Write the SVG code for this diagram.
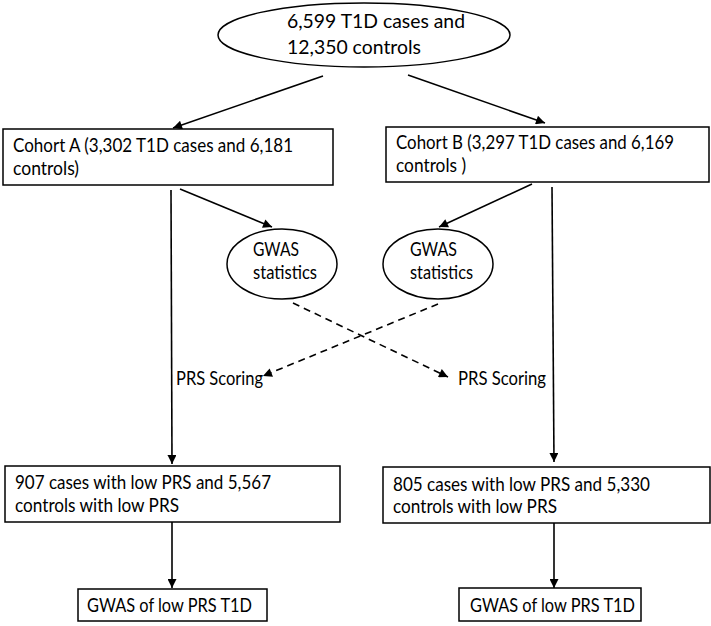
<svg xmlns="http://www.w3.org/2000/svg" width="711" height="626" viewBox="0 0 711 626">
<style>
.shape{fill:#fff;stroke:#000;stroke-width:1.5}
.t{font-family:Lato,"Liberation Sans",sans-serif;font-size:19px;fill:#000}
.c{stroke:#000;stroke-width:1.6;fill:none;marker-end:url(#ah)}
.d{stroke-dasharray:7,5}
</style>
<defs>
<marker id="ah" viewBox="0 0 10 10" refX="10" refY="5" markerWidth="10" markerHeight="9" markerUnits="userSpaceOnUse" orient="auto">
<path d="M0,0 L10,5 L0,10 z" fill="#000"/>
</marker>
</defs>
<rect width="711" height="626" fill="#fff"/>
<g id="connectors">
<line class="c" x1="323" y1="76" x2="173" y2="128"/>
<line class="c" x1="408" y1="75" x2="545" y2="123"/>
<line class="c" x1="180" y1="189" x2="272" y2="227"/>
<line class="c" x1="532" y1="184" x2="439" y2="227"/>
<line class="c" x1="171" y1="190" x2="172" y2="464"/>
<line class="c" x1="552" y1="187" x2="554" y2="462"/>
<line class="c" x1="172" y1="522" x2="172" y2="588"/>
<line class="c" x1="554" y1="523" x2="554" y2="588"/>
<line class="c d" x1="293" y1="303" x2="448" y2="377"/>
<line class="c d" x1="438" y1="304" x2="263" y2="376"/>
</g>
<g id="top">
<ellipse class="shape" cx="364" cy="35" rx="146" ry="32"/>
<text class="t" x="287" y="28" textLength="178" lengthAdjust="spacingAndGlyphs">6,599 T1D cases and</text>
<text class="t" x="287" y="54" textLength="134" lengthAdjust="spacingAndGlyphs">12,350 controls</text>
</g>
<g id="cohortA">
<rect class="shape" x="3" y="129" width="330" height="56"/>
<text class="t" x="13" y="152" textLength="280" lengthAdjust="spacingAndGlyphs">Cohort A (3,302 T1D cases and 6,181</text>
<text class="t" x="13" y="175" textLength="66" lengthAdjust="spacingAndGlyphs">controls)</text>
</g>
<g id="cohortB">
<rect class="shape" x="386" y="127" width="323" height="55"/>
<text class="t" x="396" y="149" textLength="278" lengthAdjust="spacingAndGlyphs">Cohort B (3,297 T1D cases and 6,169</text>
<text class="t" x="396" y="172" textLength="70" lengthAdjust="spacingAndGlyphs">controls )</text>
</g>
<g id="gwasA">
<ellipse class="shape" cx="282" cy="264" rx="55" ry="35"/>
<text class="t" x="253" y="256" textLength="46" lengthAdjust="spacingAndGlyphs">GWAS</text>
<text class="t" x="253" y="279" textLength="64" lengthAdjust="spacingAndGlyphs">statistics</text>
</g>
<g id="gwasB">
<ellipse class="shape" cx="438" cy="264" rx="55" ry="35"/>
<text class="t" x="410" y="256" textLength="47" lengthAdjust="spacingAndGlyphs">GWAS</text>
<text class="t" x="410" y="279" textLength="63" lengthAdjust="spacingAndGlyphs">statistics</text>
</g>
<g id="prsA">
<text class="t" x="176" y="385" textLength="87" lengthAdjust="spacingAndGlyphs">PRS Scoring</text>
</g>
<g id="prsB">
<text class="t" x="458" y="385" textLength="88" lengthAdjust="spacingAndGlyphs">PRS Scoring</text>
</g>
<g id="lowA">
<rect class="shape" x="5" y="466" width="335" height="56"/>
<text class="t" x="15" y="489" textLength="256" lengthAdjust="spacingAndGlyphs">907 cases with low PRS and 5,567</text>
<text class="t" x="15" y="512" textLength="164" lengthAdjust="spacingAndGlyphs">controls with low PRS</text>
</g>
<g id="lowB">
<rect class="shape" x="383" y="467" width="327" height="56"/>
<text class="t" x="393" y="491" textLength="257" lengthAdjust="spacingAndGlyphs">805 cases with low PRS and 5,330</text>
<text class="t" x="393" y="513" textLength="164" lengthAdjust="spacingAndGlyphs">controls with low PRS</text>
</g>
<g id="resA">
<rect class="shape" x="78" y="589" width="189" height="32"/>
<text class="t" x="87" y="612" textLength="165" lengthAdjust="spacingAndGlyphs">GWAS of low PRS T1D</text>
</g>
<g id="resB">
<rect class="shape" x="459" y="588" width="182" height="33"/>
<text class="t" x="470" y="612" textLength="165" lengthAdjust="spacingAndGlyphs">GWAS of low PRS T1D</text>
</g>
</svg>
